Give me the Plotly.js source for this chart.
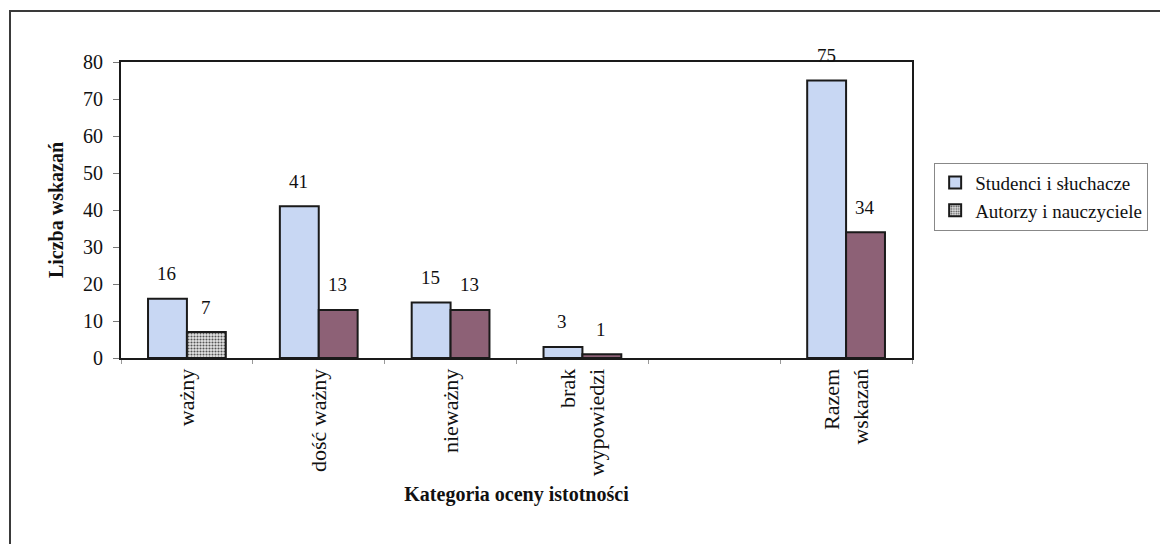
<!DOCTYPE html>
<html>
<head>
<meta charset="utf-8">
<script src="https://cdn.plot.ly/plotly-3.0.1.min.js"></script>
<style>
  html, body { margin: 0; padding: 0; background: #fff; }
  #chart { width: 1160px; height: 544px; }
  #frame { position: absolute; left: 9px; top: 10px; width: 1160px; height: 544px;
           border-top: 2px solid #3a3a3a; border-left: 2px solid #3a3a3a; pointer-events: none; }
</style>
</head>
<body>
<div id="chart"></div>
<div id="frame"></div>
<script>
const categories = ['ważny', 'dość ważny', 'nieważny', 'brak<br>wypowiedzi', ' ', 'Razem<br>wskazań'];
const studenci = [16, 41, 15, 3, null, 75];
const autorzy = [7, 13, 13, 1, null, 34];
const seriesNames = ['Studenci i słuchacze', 'Autorzy i nauczyciele'];
const autorzyPattern = ['.', '', '', '', '', ''];

const serif = '"Liberation Serif", "Times New Roman", serif';

const traces = [
  {
    type: 'bar', name: seriesNames[0], x: categories, y: studenci,
    marker: { color: '#c8d7f3', line: { color: '#1a1a1a', width: 2 } },
    hoverinfo: 'skip'
  },
  {
    type: 'bar', name: seriesNames[1], x: categories, y: autorzy,
    marker: {
      color: '#8d6176', line: { color: '#1a1a1a', width: 2 },
      pattern: { shape: autorzyPattern, fgcolor: '#555', bgcolor: '#e6e6e6', size: 3, solidity: 0.4 }
    },
    hoverinfo: 'skip'
  }
];

const annotations = [];
[studenci, autorzy].forEach((vals, s) => {
  vals.forEach((v, i) => {
    if (v === null) return;
    annotations.push({
      x: categories[i], y: v, xref: 'x', yref: 'y', text: String(v),
      showarrow: false, xshift: s === 0 ? -20 : 19, yshift: 25, yanchor: 'middle',
      font: { family: serif, size: 19, color: '#111' }
    });
  });
});

const layout = {
  width: 1160, height: 544,
  margin: { l: 121, r: 246, t: 62, b: 186 },
  paper_bgcolor: '#ffffff', plot_bgcolor: '#ffffff',
  barmode: 'group', bargap: 0.41, bargroupgap: 0,
  showlegend: true,
  legend: {
    x: 1.028, y: 0.66, xanchor: 'left', yanchor: 'top',
    bordercolor: '#888', borderwidth: 1, bgcolor: '#fff',
    font: { family: serif, size: 19, color: '#111' },
    tracegroupgap: 4, itemwidth: 30
  },
  font: { family: serif, color: '#111' },
  xaxis: {
    type: 'category', categoryorder: 'array', categoryarray: categories,
    tickangle: -90, tickson: 'boundaries', ticks: 'outside', ticklen: 4, tickcolor: '#999',
    tickfont: { family: serif, size: 22, color: '#111' },
    showline: true, linecolor: '#1a1a1a', linewidth: 2, mirror: true,
    showgrid: false, automargin: false,
    title: { text: 'Kategoria oceny istotności', font: { family: serif, size: 20, color: '#111', weight: 'bold' }, standoff: 12 }
  },
  yaxis: {
    range: [0, 80], dtick: 10, ticks: 'outside', ticklen: 6, tickcolor: '#777',
    ticklabelstandoff: 6,
    tickfont: { family: serif, size: 20, color: '#111' },
    showline: true, linecolor: '#1a1a1a', linewidth: 2, mirror: true,
    showgrid: false, zeroline: false, automargin: false,
    title: { text: 'Liczba wskazań', font: { family: serif, size: 20, color: '#111', weight: 'bold' }, standoff: 14 }
  },
  annotations: annotations
};

Plotly.newPlot('chart', traces, layout, { displayModeBar: false, staticPlot: true });
</script>
</body>
</html>
